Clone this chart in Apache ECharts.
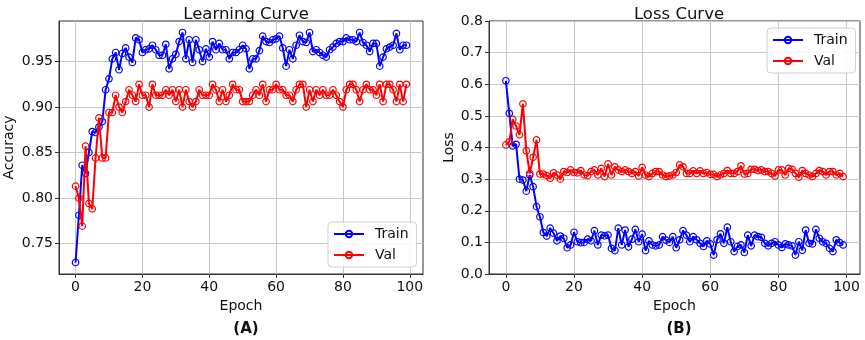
<!DOCTYPE html>
<html><head><meta charset="utf-8">
<script src="https://cdn.jsdelivr.net/npm/echarts@6/dist/echarts.min.js"></script>
<style>html,body{margin:0;padding:0;background:#fff}#c{width:865px;height:340px}</style>
</head><body><div id="c"></div>
<script>
const epochs = [0,1,2,3,4,5,6,7,8,9,10,11,12,13,14,15,16,17,18,19,20,21,22,23,24,25,26,27,28,29,30,31,32,33,34,35,36,37,38,39,40,41,42,43,44,45,46,47,48,49,50,51,52,53,54,55,56,57,58,59,60,61,62,63,64,65,66,67,68,69,70,71,72,73,74,75,76,77,78,79,80,81,82,83,84,85,86,87,88,89,90,91,92,93,94,95,96,97,98,99];
const accTrain = [0.729,0.781,0.836,0.827,0.850,0.873,0.872,0.878,0.884,0.919,
0.931,0.953,0.960,0.941,0.959,0.965,0.955,0.949,0.976,0.974,
0.960,0.963,0.964,0.968,0.963,0.957,0.957,0.969,0.942,0.953,
0.958,0.972,0.982,0.953,0.974,0.949,0.974,0.963,0.950,0.964,
0.955,0.972,0.963,0.970,0.963,0.963,0.953,0.960,0.960,0.963,
0.968,0.964,0.942,0.953,0.953,0.962,0.978,0.972,0.971,0.974,
0.975,0.978,0.965,0.945,0.963,0.953,0.968,0.979,0.972,0.971,
0.982,0.961,0.963,0.960,0.957,0.955,0.963,0.966,0.970,0.972,
0.972,0.976,0.974,0.974,0.972,0.982,0.971,0.968,0.961,0.970,
0.970,0.945,0.955,0.964,0.966,0.968,0.981,0.963,0.968,0.968];
const accVal = [0.813,0.800,0.769,0.857,0.794,0.788,0.844,0.888,0.844,0.844,
0.894,0.894,0.913,0.900,0.894,0.906,0.919,0.913,0.906,0.925,
0.913,0.913,0.900,0.925,0.913,0.913,0.913,0.919,0.913,0.919,
0.906,0.919,0.900,0.919,0.906,0.900,0.906,0.919,0.913,0.913,
0.913,0.925,0.919,0.906,0.919,0.906,0.913,0.925,0.919,0.919,
0.906,0.906,0.906,0.913,0.919,0.913,0.925,0.906,0.919,0.919,
0.925,0.919,0.919,0.913,0.913,0.906,0.919,0.925,0.925,0.900,
0.919,0.906,0.919,0.913,0.919,0.913,0.913,0.919,0.913,0.906,
0.900,0.919,0.925,0.925,0.919,0.906,0.919,0.925,0.919,0.919,
0.913,0.925,0.906,0.925,0.925,0.919,0.906,0.925,0.906,0.925];
const lossTrain = [0.611,0.508,0.405,0.410,0.300,0.297,0.262,0.313,0.276,0.213,
0.181,0.131,0.120,0.145,0.129,0.105,0.120,0.113,0.083,0.092,
0.132,0.102,0.099,0.100,0.110,0.105,0.137,0.092,0.123,0.121,
0.123,0.081,0.074,0.145,0.092,0.139,0.086,0.110,0.141,0.102,
0.126,0.074,0.105,0.092,0.089,0.092,0.118,0.107,0.100,0.118,
0.083,0.108,0.137,0.123,0.102,0.118,0.108,0.097,0.087,0.105,
0.095,0.060,0.108,0.127,0.097,0.148,0.102,0.071,0.087,0.092,
0.068,0.123,0.089,0.123,0.118,0.116,0.097,0.089,0.097,0.102,
0.092,0.084,0.095,0.092,0.089,0.060,0.102,0.075,0.139,0.097,
0.095,0.141,0.113,0.102,0.097,0.081,0.071,0.108,0.099,0.092];
const lossVal = [0.408,0.418,0.489,0.468,0.440,0.538,0.390,0.318,0.369,0.424,
0.316,0.316,0.311,0.303,0.320,0.313,0.300,0.324,0.321,0.329,
0.321,0.320,0.327,0.313,0.311,0.324,0.329,0.313,0.334,0.308,
0.348,0.313,0.339,0.329,0.324,0.329,0.324,0.318,0.324,0.310,
0.337,0.313,0.308,0.318,0.324,0.324,0.313,0.308,0.310,0.313,
0.321,0.345,0.339,0.318,0.318,0.326,0.318,0.326,0.318,0.321,
0.315,0.315,0.308,0.313,0.318,0.327,0.318,0.318,0.324,0.342,
0.316,0.318,0.331,0.331,0.327,0.329,0.324,0.324,0.318,0.310,
0.329,0.329,0.313,0.334,0.331,0.318,0.306,0.327,0.318,0.313,
0.308,0.318,0.327,0.324,0.313,0.324,0.324,0.313,0.318,0.308];
const xTicks = [0,20,40,60,80,100];
const accTicks = [0.75,0.80,0.85,0.90,0.95];
const lossTicks = [0.0,0.1,0.2,0.3,0.4,0.5,0.6,0.7,0.8];
const seriesNames = ['Train','Val'];
const titles = ['Learning Curve','Loss Curve'];
const panelLabels = ['(A)','(B)'];
const yNames = ['Accuracy','Loss'];
const xName = 'Epoch';

const FONT = 'DejaVu Sans';
const pairs = v => v.map((y,i)=>[epochs[i], y]);
const xMin = -0.05*(epochs[epochs.length-1]-epochs[0]) + epochs[0];
const xMax = epochs[epochs.length-1] + 0.05*(epochs[epochs.length-1]-epochs[0]);
const allAcc = accTrain.concat(accVal);
const aMin = Math.min(...allAcc), aMax = Math.max(...allAcc);
const accMin = aMin - 0.05*(aMax-aMin), accMax = aMax + 0.05*(aMax-aMin);

const grids = [
  {left:59, right:442, top:21, bottom:66, show:true, borderColor:'#333', borderWidth:1, backgroundColor:'transparent'},
  {left:489, right:5, top:21, bottom:66, show:true, borderColor:'#333', borderWidth:1, backgroundColor:'transparent'}
];
const lbl = {fontFamily:FONT, fontSize:14, color:'#111'};
function xAxis(i){
  return {type:'value', gridIndex:i, min:xMin, max:xMax,
    name:xName, nameLocation:'middle', nameGap:20, nameTextStyle:{fontFamily:FONT, fontSize:14, color:'#111'},
    axisLine:{show:true, onZero:false, lineStyle:{color:'#333', width:1}},
    axisTick:{show:true, length:4, customValues:xTicks, lineStyle:{color:'#333'}},
    axisLabel:Object.assign({customValues:xTicks, margin:6}, lbl),
    splitLine:{show:true, lineStyle:{color:'#c8c8c8', width:1}}};
}
function yAxis(i, mn, mx, ticks, dec, gap){
  return {type:'value', gridIndex:i, min:mn, max:mx,
    name:yNames[i], nameLocation:'middle', nameGap:gap, nameTextStyle:{fontFamily:FONT, fontSize:14, color:'#111'},
    axisLine:{show:true, onZero:false, lineStyle:{color:'#333', width:1}},
    axisTick:{show:true, length:4, customValues:ticks, lineStyle:{color:'#333'}},
    axisLabel:Object.assign({customValues:ticks, margin:6, formatter:v=>v.toFixed(dec)}, lbl),
    splitLine:{show:true, lineStyle:{color:'#c8c8c8', width:1}}};
}
const colors = ['#0000ff','#ff0000'];
function ser(name, data, gi, ci){
  return {type:'line', name:name, xAxisIndex:gi, yAxisIndex:gi, data:pairs(data),
    symbol:'circle', symbolSize:6.5, showAllSymbol:true, animation:false,
    lineStyle:{color:colors[ci], width:2},
    itemStyle:{color:'rgba(255,255,255,0)', borderColor:colors[ci], borderWidth:1.2},
    z: 2 + ci};
}
function legend(left, top){
  return {orient:'vertical', left:left, top:top, data:seriesNames.map((n,i)=>({name:n, itemStyle:{color:'rgba(255,255,255,0)', borderColor:colors[i]}})),
    itemWidth:30, itemHeight:8, itemGap:7, padding:[5,8,5,5],
    backgroundColor:'rgba(255,255,255,0.85)', borderColor:'#d0d0d0', borderWidth:1, borderRadius:4,
    textStyle:{fontFamily:FONT, fontSize:14, color:'#111', padding:[0,0,0,6]}, selectedMode:false};
}
const option = {
  animation:false,
  backgroundColor:'#fff',
  title:[
    {text:titles[0], left:241, top:1, textAlign:'center', textStyle:{fontFamily:FONT, fontSize:16.5, fontWeight:'normal', color:'#111'}},
    {text:titles[1], left:674, top:1, textAlign:'center', textStyle:{fontFamily:FONT, fontSize:16.5, fontWeight:'normal', color:'#111'}},
    {text:panelLabels[0], left:241, top:317, textAlign:'center', textStyle:{fontFamily:FONT, fontSize:15, fontWeight:'bold', color:'#111'}},
    {text:panelLabels[1], left:674, top:317, textAlign:'center', textStyle:{fontFamily:FONT, fontSize:15, fontWeight:'bold', color:'#111'}}
  ],
  grid:grids,
  xAxis:[xAxis(0), xAxis(1)],
  yAxis:[yAxis(0, accMin, accMax, accTicks, 2, 43), yAxis(1, 0, 0.8, lossTicks, 1, 32)],
  legend:[legend(328,222), legend(767,28)],
  series:[
    ser(seriesNames[0], accTrain, 0, 0), ser(seriesNames[1], accVal, 0, 1),
    ser(seriesNames[0], lossTrain, 1, 0), ser(seriesNames[1], lossVal, 1, 1)
  ]
};
const chart = echarts.init(document.getElementById('c'), null, {renderer:'canvas'});
chart.setOption(option);
</script></body></html>
